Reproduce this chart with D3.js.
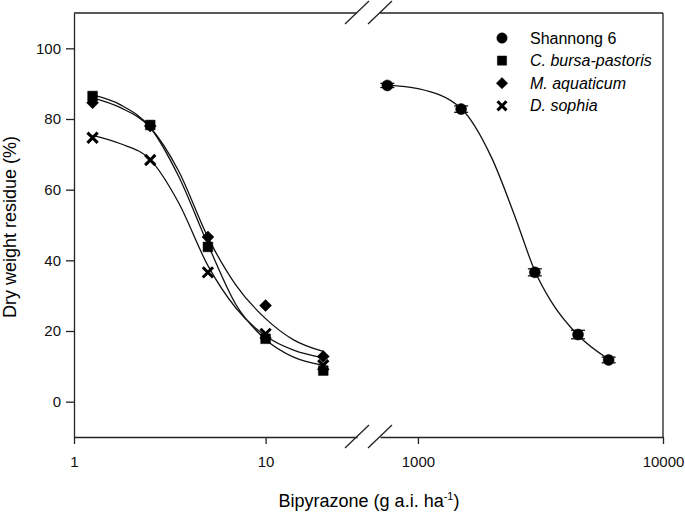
<!DOCTYPE html>
<meta charset="utf-8">
<title>Bipyrazone dose response</title>
<style>
body { margin: 0; background: #fff; }
svg { font-family: "Liberation Sans", Arial, sans-serif; }
.axis path, .axis line { stroke: #222; stroke-width: 1.3; }
.axis text { font-size: 15px; fill: #111; }
.fit { fill: none; stroke: #111; stroke-width: 1.3; }
.frame { stroke: #222; stroke-width: 1.3; }
</style>
<body>
<script src="https://d3js.org/d3.v7.min.js"></script>
<script>

var doseLeft = [1.25, 2.5, 5, 10, 20];
var cBursa = [86.5, 78.3, 43.8, 17.8, 8.8];
var mAquaticum = [84.6, 78.0, 46.6, 27.2, 12.8];
var dSophia = [74.7, 68.4, 36.6, 19.2, 10.3];

var doseRight = [750, 1500, 3000, 4500, 6000];
var shannong = [89.5, 82.8, 36.6, 19.0, 11.8];
var shannongErr = [0.6, 0.9, 1.0, 1.2, 0.8];

// fitted curves at a few doses
var fitDoseLeft = [1.25, 1.75, 2.5, 3.5, 5, 7, 10, 14, 20];
var cBursaFit = [86.8, 84.0, 77.6, 64.0, 44.5, 27.5, 17.6, 12.6, 10.3];
var mAquaticumFit = [86.0, 83.2, 77.6, 65.5, 46.5, 33.0, 23.5, 17.5, 14.2];
var dSophiaFit = [75.4, 73.0, 68.5, 56.5, 38.5, 26.5, 18.6, 14.6, 12.4];

var fitDoseRight = [750, 1000, 1500, 2000, 2500, 3000, 3500, 4500, 6000];
var shannongFit = [89.6, 88.6, 83.0, 69.0, 52.0, 37.0, 28.3, 18.8, 12.0];

var legendNames = ["Shannong 6", "C. bursa-pastoris", "M. aquaticum", "D. sophia"];

var width = 685, height = 514;
var plotTop = 13, plotBottom = 437, plotLeft = 74, plotRight = 663;

var svg = d3.select("body").append("svg")
    .attr("width", width)
    .attr("height", height);

// broken log x axis: two segments
var xLeft = d3.scaleLog().domain([1, 30]).range([plotLeft, 357]);
var xRight = d3.scaleLog().domain([700, 10000]).range([380, plotRight]);
var y = d3.scaleLinear().domain([-10, 110]).range([plotBottom, plotTop]);

// y axis
svg.append("g")
    .attr("class", "axis")
    .attr("transform", "translate(" + plotLeft + ",0)")
    .call(d3.axisLeft(y).tickValues([0, 20, 40, 60, 80, 100])
        .tickSize(8).tickPadding(5).tickSizeOuter(0));

// x axis segments
svg.append("g")
    .attr("class", "axis")
    .attr("transform", "translate(0," + plotBottom + ")")
    .call(d3.axisBottom(xLeft).tickValues([1, 10]).tickFormat(d3.format("d"))
        .tickSize(7).tickPadding(12).tickSizeOuter(0));

svg.append("g")
    .attr("class", "axis")
    .attr("transform", "translate(0," + plotBottom + ")")
    .call(d3.axisBottom(xRight).tickValues([1000, 10000]).tickFormat(d3.format("d"))
        .tickSize(7).tickPadding(12).tickSizeOuter(0));

// top border (also broken) and right border
svg.append("line").attr("class", "frame")
    .attr("x1", xLeft.range()[0]).attr("x2", xLeft.range()[1])
    .attr("y1", plotTop).attr("y2", plotTop);
svg.append("line").attr("class", "frame")
    .attr("x1", xRight.range()[0]).attr("x2", xRight.range()[1])
    .attr("y1", plotTop).attr("y2", plotTop);
svg.append("line").attr("class", "frame")
    .attr("x1", plotRight).attr("x2", plotRight)
    .attr("y1", plotTop).attr("y2", plotBottom);

// break marks
[plotTop, plotBottom].forEach(function(yy) {
    [345, 368].forEach(function(xx) {
        svg.append("line").attr("class", "frame")
            .attr("x1", xx).attr("y1", yy + 11)
            .attr("x2", xx + 24).attr("y2", yy - 12);
    });
});

// fitted curves
function fitLine(x) {
    return d3.line()
        .x(function(d) { return x(d[0]); })
        .y(function(d) { return y(d[1]); })
        .curve(d3.curveMonotoneX);
}

[cBursaFit, mAquaticumFit, dSophiaFit].forEach(function(vals) {
    svg.append("path").attr("class", "fit")
        .attr("d", fitLine(xLeft)(d3.zip(fitDoseLeft, vals)));
});
svg.append("path").attr("class", "fit")
    .attr("d", fitLine(xRight)(d3.zip(fitDoseRight, shannongFit)));

// markers: circle, square, diamond (square turned 45deg), cross
var symbols = [
    d3.symbol().type(d3.symbolCircle).size(95),
    d3.symbol().type(d3.symbolSquare).size(95),
    d3.symbol().type(d3.symbolSquare).size(72),
    d3.symbol().type(d3.symbolTimes).size(70)
];
var turn = [0, 0, 45, 0];

function drawPoints(x, doses, vals, k) {
    svg.append("g").selectAll("path")
        .data(d3.zip(doses, vals))
        .enter().append("path")
        .attr("transform", function(d) {
            return "translate(" + x(d[0]) + "," + y(d[1]) + ") rotate(" + turn[k] + ")";
        })
        .attr("d", symbols[k])
        .attr("fill", k == 3 ? "none" : "#000")
        .attr("stroke", "#000")
        .attr("stroke-width", k == 3 ? 3 : 0.5);
}

// Shannong 6 error bars
var eb = svg.append("g").attr("stroke", "#000").attr("stroke-width", 1.2);
doseRight.forEach(function(dose, i) {
    var cx = xRight(dose),
        y0 = y(shannong[i] - shannongErr[i]),
        y1 = y(shannong[i] + shannongErr[i]);
    eb.append("line").attr("x1", cx).attr("x2", cx).attr("y1", y0).attr("y2", y1);
    eb.append("line").attr("x1", cx - 7).attr("x2", cx + 7).attr("y1", y0).attr("y2", y0);
    eb.append("line").attr("x1", cx - 7).attr("x2", cx + 7).attr("y1", y1).attr("y2", y1);
});

drawPoints(xRight, doseRight, shannong, 0);
drawPoints(xLeft, doseLeft, cBursa, 1);
drawPoints(xLeft, doseLeft, mAquaticum, 2);
drawPoints(xLeft, doseLeft, dSophia, 3);

// legend
var legendSize = [85, 85, 64, 55];
var legend = svg.append("g").selectAll("g")
    .data(legendNames)
    .enter().append("g")
    .attr("transform", function(d, i) { return "translate(502," + (38 + i * 22.6) + ")"; });

legend.append("path")
    .attr("d", function(d, i) {
        return d3.symbol().type(symbols[i].type()).size(legendSize[i])();
    })
    .attr("transform", function(d, i) { return "rotate(" + turn[i] + ")"; })
    .attr("fill", function(d, i) { return i == 3 ? "none" : "#000"; })
    .attr("stroke", "#000")
    .attr("stroke-width", function(d, i) { return i == 3 ? 3 : 0.5; });

legend.append("text")
    .attr("x", 28)
    .attr("dy", "0.35em")
    .style("font-size", "16px")
    .style("font-style", function(d, i) { return i == 0 ? "normal" : "italic"; })
    .text(function(d) { return d; });

// axis titles
var xt = svg.append("text")
    .attr("x", 369)
    .attr("y", 507)
    .attr("text-anchor", "middle")
    .style("font-size", "18px");
xt.append("tspan").text("Bipyrazone (g a.i. ha");
xt.append("tspan").attr("dy", -7).style("font-size", "11px").text("-1");
xt.append("tspan").attr("dy", 7).text(")");

svg.append("text")
    .attr("transform", "translate(16,227) rotate(-90)")
    .attr("text-anchor", "middle")
    .style("font-size", "18px")
    .text("Dry weight residue (%)");

</script>
</body>
